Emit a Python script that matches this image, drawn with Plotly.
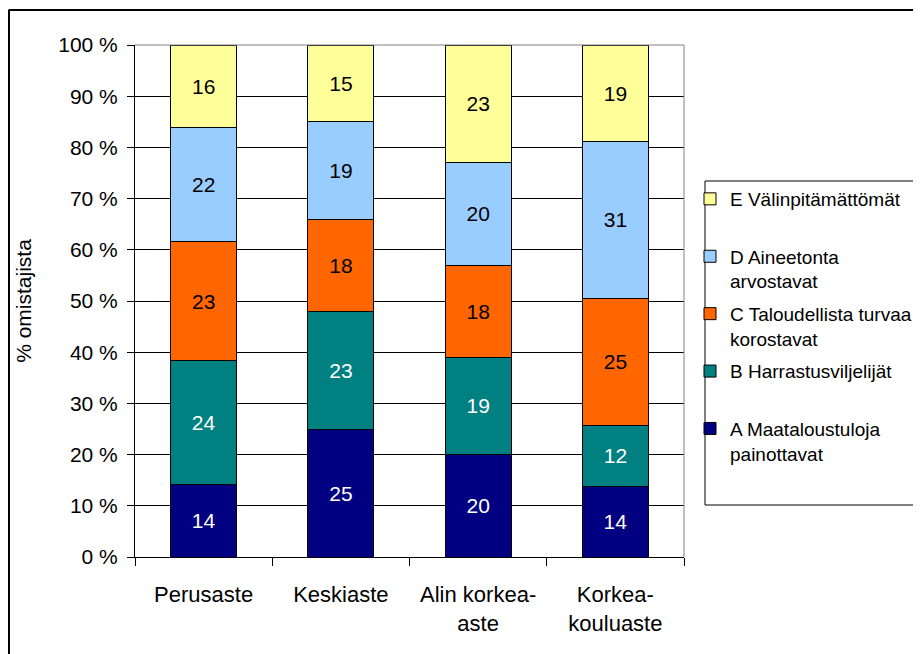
import plotly.graph_objects as go

categories = ["Perusaste", "Keskiaste", "Alin korkea-aste", "Korkeakouluaste"]
tick_labels = ["Perusaste", "Keskiaste", "Alin korkea-<br>aste", "Korkea-<br>kouluaste"]
series_names = ["A Maataloustuloja<br>painottavat", "B Harrastusviljelijät<br> ",
                "C Taloudellista turvaa<br>korostavat", "D Aineetonta<br>arvostavat",
                "E Välinpitämättömät<br> "]
A = [14, 25, 20, 14]
B = [24, 23, 19, 12]
C = [23, 18, 18, 25]
D = [22, 19, 20, 31]
E = [16, 15, 23, 19]
series_values = [A, B, C, D, E]
colors = ["#000080", "#008080", "#FF6600", "#99CCFF", "#FFFF99"]
text_colors = ["white", "white", "black", "black", "black"]

FONT = "Liberation Sans, Arial, sans-serif"

fig = go.Figure()
n = len(series_names)
for i, (name, vals) in enumerate(zip(series_names, series_values)):
    fig.add_trace(go.Bar(
        x=categories, y=vals, name=name, legendgroup=str(i), legendrank=n - i,
        marker=dict(color=colors[i], line=dict(color="black", width=1)),
        text=[str(v) for v in vals], textposition="inside", insidetextanchor="middle",
        textangle=0, constraintext="none",
        textfont=dict(color=text_colors[i], size=21, family=FONT),
        width=0.48,
    ))

# page body has an 8px margin; figure is sized to fit the window
OFF = 8
W, H = 921 - OFF, 654 - OFF
PL, PR, PT, PB = 135, 684, 45, 557  # plot area in window pixels
L, T = PL - OFF, PT - OFF
R = W - (PR - OFF)
Bm = H - (PB - OFF)
pw, ph = PR - PL, PB - PT
def px(x): return (x - PL) / pw
def py(y): return (PB - y) / ph

fig.update_layout(
    width=W, height=H, barmode="stack", barnorm="percent",
    margin=dict(l=L, r=R, t=T, b=Bm, autoexpand=False),
    paper_bgcolor="white", plot_bgcolor="white",
    font=dict(family=FONT, size=21, color="black"),
    showlegend=True,
    legend=dict(x=px(690), y=py(180), xanchor="left", yanchor="top",
                borderwidth=0, bgcolor="rgba(0,0,0,0)",
                traceorder="grouped", tracegroupgap=5, valign="top",
                font=dict(size=19, family=FONT, color="black"),
                itemwidth=30),
    xaxis=dict(tickmode="array", tickvals=categories, ticktext=tick_labels,
               tickson="boundaries", ticks="outside", ticklen=8, tickcolor="black",
               showline=True, linecolor="black", linewidth=1, showgrid=False,
               ticklabelstandoff=18,
               tickfont=dict(size=22, family=FONT)),
    yaxis=dict(range=[0, 100], dtick=10, ticksuffix=" %", ticks="outside", ticklen=7,
               tickcolor="black", showline=True, linecolor="black", linewidth=1,
               showgrid=True, gridcolor="black", gridwidth=1, zeroline=False,
               ticklabelstandoff=5,
               title=dict(text="% omistajista", font=dict(size=21, family=FONT), standoff=20),
               tickfont=dict(size=21, family=FONT)),
    shapes=[
        dict(type="line", xref="paper", yref="paper", x0=0, x1=1, y0=1, y1=1,
             line=dict(color="#808080", width=1), layer="above"),
        dict(type="line", xref="paper", yref="paper", x0=1, x1=1, y0=0, y1=1,
             line=dict(color="#808080", width=1), layer="above"),
        dict(type="rect", xref="paper", yref="paper", x0=px(705), x1=px(918),
             y0=py(505), y1=py(181), line=dict(color="black", width=1)),
        dict(type="line", xref="paper", yref="paper", x0=px(8.5), x1=px(925), y0=py(10), y1=py(10),
             line=dict(color="black", width=2)),
        dict(type="line", xref="paper", yref="paper", x0=px(9), x1=px(9), y0=py(10), y1=py(660),
             line=dict(color="black", width=2)),
    ],
)

fig.write_html("out.html")
